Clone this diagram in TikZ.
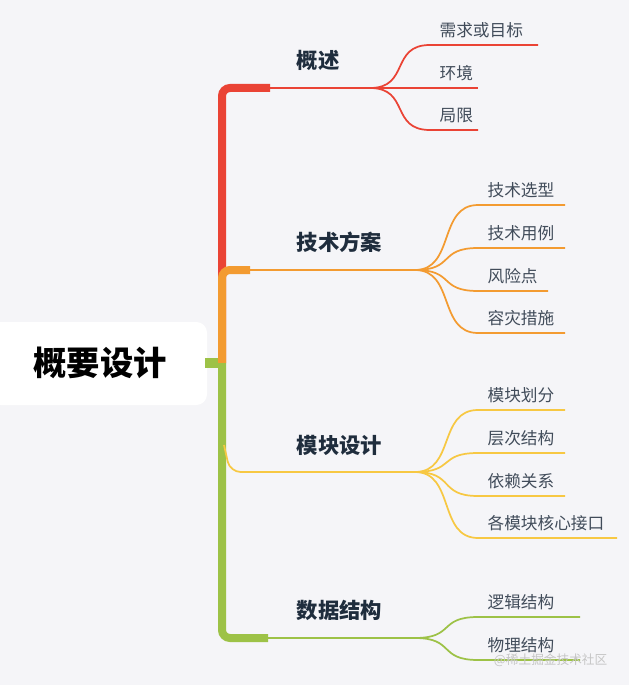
\documentclass[tikz,border=0pt]{standalone}
\usepackage{fontspec}
\newfontfamily\cjk{Noto Sans CJK SC}
\usetikzlibrary{positioning}
\definecolor{bgc}{HTML}{F5F5F8}
\definecolor{cRed}{HTML}{EA4335}
\definecolor{cOrange}{HTML}{F39B31}
\definecolor{cYellow}{HTML}{F7C843}
\definecolor{cGreen}{HTML}{9DC247}
\definecolor{cText}{HTML}{1F2D3D}
\tikzset{
  main/.style={font=\cjk\bfseries\fontsize{16}{18}\selectfont, text=cText, anchor=west},
  sub/.style={font=\cjk\fontsize{12.5}{14}\selectfont, text=cText!85, anchor=south west, inner sep=2pt},
  trunk/.style={line width=6pt, rounded corners=6pt},
  twig/.style={line width=1.3pt}
}
\begin{document}
\begin{tikzpicture}[x=0.75pt,y=-0.75pt]

        % Canvas
        \fill[bgc] (0,0) rectangle (629,685);
        \useasboundingbox (0,0) rectangle (629,685);

        % Root
        \fill[white, rounded corners=8pt] (-10,322) rectangle (207,405);
        \node[font=\cjk\bfseries\fontsize{25}{28}\selectfont, text=black] (root) at (100,363) {概要设计};
        \draw[cGreen, line width=7pt] (205,363) -- (222,363);

        % Trunk
        \draw[cRed, trunk] (222,363) -- (222,88) -- (270,88);
        \draw[cOrange, trunk] (222,363) -- (222,270) -- (250,270);
        \draw[cGreen, trunk] (222,363) -- (222,638) -- (268,638);
        \draw[cYellow, twig, rounded corners=8pt] (224,445) -- (230,472) -- (250,472);

        % Branches
        \coordinate (b1) at (370,88);
        \coordinate (b2) at (415,270);
        \coordinate (b3) at (415,472);
        \coordinate (b4) at (415,638);
        \draw[cRed, twig] (260,88) -- (b1);
        \draw[cOrange, twig] (245,270) -- (b2);
        \draw[cYellow, twig] (245,472) -- (b3);
        \draw[cGreen, twig] (260,638) -- (b4);
        \node[main] (n1) at (292,60) {概述};
        \node[main] (n2) at (292,242) {技术方案};
        \node[main] (n3) at (292,445) {模块设计};
        \node[main] (n4) at (292,610) {数据结构};

        % Leaves: branch / colour / y / start / end / label
        \foreach \b/\c/\y/\xs/\xe/\t in {
            b1/cRed/45/430/538/需求或目标, b1/cRed/88/430/478/环境, b1/cRed/130/430/478/局限,
            b2/cOrange/205/478/565/技术选型, b2/cOrange/248/478/565/技术用例,
            b2/cOrange/291/478/548/风险点, b2/cOrange/333/478/565/容灾措施,
            b3/cYellow/410/478/565/模块划分, b3/cYellow/453/478/565/层次结构,
            b3/cYellow/496/478/565/依赖关系, b3/cYellow/538/478/617/各模块核心接口,
            b4/cGreen/617/478/580/逻辑结构, b4/cGreen/660/478/580/物理结构} {
            \coordinate (s) at (\xs,\y);
            \coordinate (e) at (\xe,\y);
            \draw[\c, twig] (\b) .. controls ([xshift=30]\b) and ([xshift=-30]s) .. (s) -- (e);
            \node[sub] at ([xshift=5,yshift=3]s) {\t};
        }

        % Watermark
        \node[font=\cjk\fontsize{9.5}{12}\selectfont, text=gray!45, anchor=east] (wm) at (612,660) {@稀土掘金技术社区};

\end{tikzpicture}
\end{document}
